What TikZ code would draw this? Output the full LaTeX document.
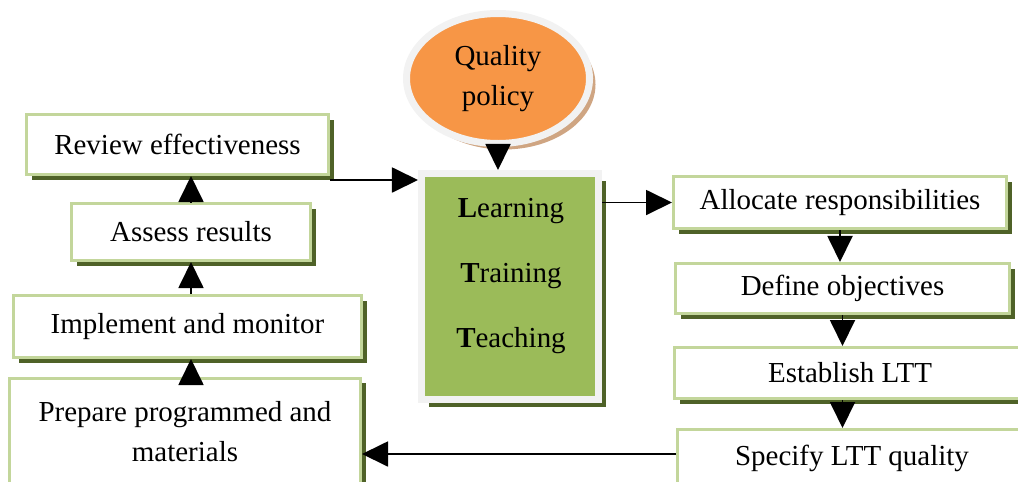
\documentclass[tikz,border=0pt]{standalone}
\usepackage{fontspec}
\setmainfont{Liberation Serif}
\usetikzlibrary{arrows.meta,shapes.geometric,shadows,calc}

\newdimen\unitpx
\unitpx=0.025cm

\begin{document}
\begin{tikzpicture}[x=0.025cm,y=-0.025cm,
  every node/.style={font=\fontsize{20.6pt}{28.4pt}\selectfont,inner sep=0pt},
  stepbox/.style={draw=box_border,line width=3\unitpx,fill=white,align=center,
    drop shadow={shadow xshift=5\unitpx,shadow yshift=-5\unitpx,fill=box_shadow,opacity=1}},
  lttbox/.style={draw=ltt_border,line width=7\unitpx,fill=ltt_fill,
    drop shadow={shadow xshift=7\unitpx,shadow yshift=-7\unitpx,fill=box_shadow,opacity=1}},
  policy/.style={ellipse,draw=ltt_border,line width=7\unitpx,fill=policy_fill,align=center,
    drop shadow={shadow xshift=6\unitpx,shadow yshift=-6\unitpx,fill=policy_shadow,opacity=1}},
  flow/.style={-{Triangle[width=0.625cm,length=0.65cm]},line width=1.3pt}]
\definecolor{box_border}{HTML}{C3D69B}
\definecolor{box_shadow}{HTML}{4F6228}
\definecolor{ltt_border}{HTML}{F2F2F2}
\definecolor{ltt_fill}{HTML}{9BBB59}
\definecolor{policy_fill}{HTML}{F79646}
\definecolor{policy_shadow}{HTML}{CFA582}

\useasboundingbox (0,0) rectangle (1018,481);
\clip (0,0) rectangle (1018,481);

\foreach \n/\x/\y/\w/\h/\txt in {
  rev/177.5/144.5/302/60/{Review effectiveness},
  ass/191/232/239/57/{Assess results},
  imp/187.5/326.5/348/62/{Implement and monitor},
  prep/185/432/351/108/{Prepare programmed and\\materials},
  alloc/840/202.5/333/52/{Allocate responsibilities},
  def/842.5/288.5/334/50/{Define objectives},
  est/850/373/351/51/{Establish LTT},
  spec/852/458/349/57/{Specify LTT quality}}{
\node[stepbox,minimum width=\w\unitpx,minimum height=\h\unitpx] (\n) at (\x,\y) {\txt};
}

\node[lttbox,minimum width=177\unitpx,minimum height=226\unitpx] (ltt) at (510,286.5) {};
\foreach \n/\first/\rest/\y in {lrn/L/earning/217,trn/T/raining/282,tch/T/eaching/347}{
\node[anchor=base] (\n) at (511,\y) {\textbf{\first}\rest};
}

\node[policy,minimum width=183\unitpx,minimum height=130\unitpx] (qp) at (498,78.5) {Quality\\policy};

% arrows
\draw[flow] (qp.south) -- (qp.south |- ltt.north);
\draw[flow] ($(rev.south east)+(0,4)$) -- ($(rev.south east -| ltt.west)+(0,4)$);
\draw[flow] (ltt.east |- alloc.west) -- (alloc.west);
\draw[flow] (alloc.south) -- (alloc.south |- def.north);
\draw[flow] (def.south) -- (def.south |- est.north);
\draw[flow] (def.south |- est.south) -- (def.south |- spec.north);
\draw[flow] ($(spec.west)+(0,-4)$) -- ($(spec.west -| prep.east)+(0,-4)$);
\draw[flow] (ass.south |- prep.north) -- (ass.south |- imp.south);
\draw[flow] (ass.south |- imp.north) -- (ass.south);
\draw[flow] (ass.north) -- (ass.north |- rev.south);
\end{tikzpicture}
\end{document}
